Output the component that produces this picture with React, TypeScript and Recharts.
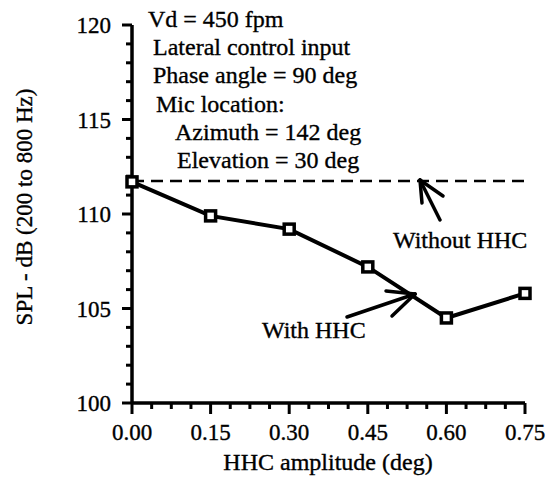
import React from 'react';
import { LineChart, Line, XAxis, YAxis } from 'recharts';

// HHC amplitude (deg) and measured SPL
const amplitude = [0.0, 0.15, 0.3, 0.45, 0.6, 0.75];
const withHHC = [111.7, 109.9, 109.2, 107.2, 104.5, 105.8];
const withoutHHC = [111.75, 111.75, 111.75, 111.75, 111.75, 111.75];

const xTicks = [
    0, 0.0375, 0.075, 0.1125, 0.15, 0.1875, 0.225, 0.2625, 0.3, 0.3375, 0.375,
    0.4125, 0.45, 0.4875, 0.525, 0.5625, 0.6, 0.6375, 0.675, 0.7125, 0.75,
];
const xLabels = ['0.00', '0.15', '0.30', '0.45', '0.60', '0.75'];
const yTicks = [100, 101, 102, 103, 104, 105, 106, 107, 108, 109, 110, 111, 112, 113, 114, 115, 116, 117, 118, 119, 120];

const notes = [
    'Vd = 450 fpm',
    'Lateral control input',
    'Phase angle = 90 deg',
    'Mic location:',
    'Azimuth = 142 deg',
    'Elevation = 30 deg',
];

const data = amplitude.map((a, i) => ({ a, on: withHHC[i], off: withoutHHC[i] }));

const FONT = '"Liberation Serif", "Times New Roman", serif';
// scanned text looks a bit heavier than a plain serif
const INK = { fill: '#000', stroke: '#000', strokeWidth: 0.35 };

const XTick = (props: any) => {
    const { x, y, index } = props;
    const major = index % 4 === 0;
    return (
        <g>
            <line x1={x} y1={y} x2={x} y2={y + (major ? 11 : 6)} stroke="#000" strokeWidth={3} />
            {major && (
                <text x={x} y={y + 37} textAnchor="middle" fontSize={23} fontFamily={FONT} {...INK}>
                    {xLabels[index / 4]}
                </text>
            )}
        </g>
    );
};

const YTick = (props: any) => {
    const { x, y, payload } = props;
    const major = payload.value % 5 === 0;
    return (
        <g>
            <line x1={x} y1={y} x2={x - (major ? 10 : 6)} y2={y} stroke="#000" strokeWidth={3} />
            {major && (
                <text x={x - 21} y={y + 8} textAnchor="end" fontSize={23} fontFamily={FONT} {...INK}>
                    {payload.value}
                </text>
            )}
        </g>
    );
};

const SquareDot = (props: any) => {
    const { cx, cy } = props;
    return <rect x={cx - 5} y={cy - 5} width={10} height={10} fill="#fff" stroke="#000" strokeWidth={3.5} />;
};

const App = () => {
    return (
        <div style={{ position: 'absolute', left: 0, top: 0, width: 551, height: 478, background: '#fff' }}>
            <LineChart width={551} height={478} data={data} margin={{ top: 25, right: 26, left: 0, bottom: 0 }}>
                <XAxis
                    dataKey="a"
                    type="number"
                    domain={[0, 0.75]}
                    ticks={xTicks}
                    interval={0}
                    height={75}
                    tickSize={0}
                    tickMargin={0}
                    tickLine={false}
                    axisLine={{ stroke: '#000', strokeWidth: 3.5 }}
                    tick={<XTick />}
                />
                <YAxis
                    type="number"
                    domain={[100, 120]}
                    ticks={yTicks}
                    interval={0}
                    width={132}
                    tickSize={0}
                    tickMargin={0}
                    tickLine={false}
                    axisLine={{ stroke: '#000', strokeWidth: 3.5 }}
                    tick={<YTick />}
                />
                <Line
                    dataKey="off"
                    stroke="#000"
                    strokeWidth={2.5}
                    strokeDasharray="12 7"
                    dot={false}
                    isAnimationActive={false}
                />
                <Line
                    dataKey="on"
                    stroke="#000"
                    strokeWidth={4}
                    dot={<SquareDot />}
                    isAnimationActive={false}
                />
            </LineChart>
            <svg width={551} height={478} style={{ position: 'absolute', left: 0, top: 0, pointerEvents: 'none' }}>
                <g fontFamily={FONT} {...INK}>
                    <text x={148} y={27} fontSize={24}>{notes[0]}</text>
                    <text x={153} y={55} fontSize={24}>{notes[1]}</text>
                    <text x={153} y={83} fontSize={24}>{notes[2]}</text>
                    <text x={156} y={112} fontSize={24}>{notes[3]}</text>
                    <text x={175} y={140} fontSize={24}>{notes[4]}</text>
                    <text x={177} y={168} fontSize={24}>{notes[5]}</text>
                    <text x={393} y={248} fontSize={24}>Without HHC</text>
                    <text x={262} y={338} fontSize={24}>With HHC</text>
                    <text x={328} y={470} fontSize={24} textAnchor="middle">HHC amplitude (deg)</text>
                    <text x={32} y={207} fontSize={23} textAnchor="middle" transform="rotate(-90 32 207)">
                        SPL - dB (200 to 800 Hz)
                    </text>
                </g>
                <g stroke="#000" strokeWidth={3.5} fill="none" strokeLinecap="round">
                    <line x1={420} y1={180} x2={440} y2={220} />
                    <line x1={420} y1={180} x2={443} y2={196} />
                    <line x1={420} y1={180} x2={422} y2={203} />
                    <line x1={415} y1={294} x2={347} y2={317} />
                    <line x1={415} y1={294} x2={386} y2={291} />
                    <line x1={415} y1={294} x2={392} y2={316} />
                </g>
            </svg>
        </div>
    );
};

export default App;
